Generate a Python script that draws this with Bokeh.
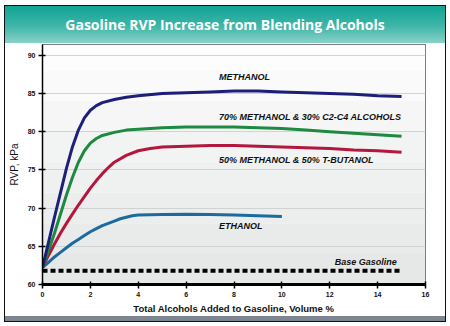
from bokeh.plotting import figure
from bokeh.models import Range1d, FixedTicker, BoxAnnotation, Div
from bokeh.layouts import column
from bokeh.core.properties import value
from bokeh.embed import file_html
from bokeh.resources import INLINE

# ---- data ----
meth_x = [0, 0.25, 0.5, 0.75, 1.0, 1.25, 1.5, 1.75, 2.0, 2.25, 2.5, 3, 3.5, 4, 5, 6, 7, 8, 9, 10, 11, 12, 13, 14, 15]
meth_y = [62.2, 65.5, 68.8, 72.0, 75.2, 78.0, 80.2, 81.8, 82.8, 83.4, 83.8, 84.2, 84.5, 84.7, 85.0, 85.1, 85.2,
          85.3, 85.3, 85.2, 85.1, 85.0, 84.9, 84.7, 84.6]

m70_x = [0, 0.25, 0.5, 0.75, 1.0, 1.25, 1.5, 1.75, 2.0, 2.25, 2.5, 3, 3.5, 4, 5, 6, 7, 8, 9, 10, 11, 12, 13, 14, 15]
m70_y = [62.2, 64.4, 66.7, 69.2, 71.7, 74.0, 76.0, 77.5, 78.5, 79.1, 79.5, 79.9, 80.2, 80.3, 80.5, 80.6, 80.6,
         80.6, 80.5, 80.4, 80.2, 80.0, 79.8, 79.6, 79.4]

m50_x = [0, 0.25, 0.5, 0.75, 1.0, 1.25, 1.5, 1.75, 2.0, 2.25, 2.5, 2.75, 3, 3.5, 4, 4.5, 5, 6, 7, 8, 9, 10, 11,
         12, 13, 14, 15]
m50_y = [62.2, 63.8, 65.3, 66.7, 68.0, 69.2, 70.4, 71.5, 72.6, 73.6, 74.5, 75.3, 76.0, 76.9, 77.5, 77.8, 78.0,
         78.1, 78.2, 78.2, 78.1, 78.0, 77.9, 77.8, 77.6, 77.5, 77.3]

eth_x = [0, 0.25, 0.5, 0.75, 1, 1.25, 1.5, 1.75, 2, 2.25, 2.5, 2.75, 3, 3.25, 3.5, 3.75, 4, 5, 6, 7, 8, 9, 10]
eth_y = [62.2, 62.9, 63.6, 64.2, 64.8, 65.4, 65.9, 66.4, 66.9, 67.3, 67.7, 68.0, 68.3, 68.6, 68.8, 69.0, 69.1,
         69.15, 69.2, 69.15, 69.1, 69.0, 68.9]

base_x = [0, 15]
base_y = [61.8, 61.8]

x_ticks = [0, 2, 4, 6, 8, 10, 12, 14, 16]
y_ticks = [60, 65, 70, 75, 80, 85, 90]

label_texts = ["METHANOL", "70% METHANOL & 30% C2-C4 ALCOHOLS",
               "50% METHANOL & 50% T-BUTANOL", "ETHANOL"]
label_x = [7.37, 7.37, 7.37, 7.37]
label_y = [87.1, 81.9, 76.3, 67.6]

title_text = "Gasoline RVP Increase from Blending Alcohols"

# ---- header ----
hdr = Div(text=title_text, width=440, height=37, margin=0,
          styles={"background": "linear-gradient(to bottom, #0fa494 0%, #3fb6a8 55%, #8ad1c7 100%)",
                  "color": "white", "font-family": "Open Sans", "font-weight": "bold",
                  "font-size": "14px", "text-align": "center", "line-height": "37px",
                  "white-space": "nowrap", "overflow": "hidden"})

# ---- figure ----
p = figure(width=440, height=273, output_backend="svg", toolbar_location=None,
           x_range=Range1d(0, 16), y_range=Range1d(60, 91.4),
           min_border_left=37, min_border_right=20, min_border_top=1,
           min_border_bottom=30, margin=0)
p.background_fill_color = "#ffffff"
p.border_fill_color = "#ffffff"
p.outline_line_color = "#555555"
p.outline_line_width = 1

# plot-area gradient (white top -> light grey bottom)
bands = [(60, 64, "#e6e8e8"), (64, 68, "#e9ebeb"), (68, 72, "#eceeee"), (72, 76, "#eff0f0"),
         (76, 80, "#f2f3f3"), (80, 84, "#f6f6f6"), (84, 88, "#fafafa"), (88, 91.4, "#fdfdfd")]
for b0, b1, c in bands:
    p.add_layout(BoxAnnotation(bottom=b0, top=b1, fill_color=c, fill_alpha=1,
                               line_alpha=0, level="image"))

# grid
p.xgrid.grid_line_color = None
p.ygrid.grid_line_color = "#cfd3d3"
p.ygrid.grid_line_width = 1
p.ygrid.ticker = FixedTicker(ticks=y_ticks)

# axes
p.xaxis.ticker = FixedTicker(ticks=x_ticks)
p.yaxis.ticker = FixedTicker(ticks=y_ticks)
for ax in (p.xaxis[0], p.yaxis[0]):
    ax.axis_line_color = "black"
    ax.major_tick_line_color = "black"
    ax.major_tick_line_width = 1.5
    ax.minor_tick_line_color = None
    ax.major_label_text_font = "Liberation Sans"
    ax.major_label_text_font_size = "7px"
    ax.major_label_text_font_style = "bold"
    ax.major_label_text_color = "#111111"
    ax.axis_label_text_font = "Liberation Sans"
    ax.axis_label_text_color = "#111111"
    ax.major_tick_in = 3
    ax.major_tick_out = 4
p.xaxis.axis_line_width = 3
p.yaxis.axis_line_width = 1.5
p.xaxis.axis_label = "Total Alcohols Added to Gasoline, Volume %"
p.xaxis.axis_label_text_font_size = "9.5px"
p.xaxis.axis_label_text_font_style = "bold"
p.xaxis.axis_label_standoff = 3
p.yaxis.axis_label = "RVP, kPa"
p.yaxis.axis_label_text_font_size = "10px"
p.yaxis.axis_label_text_font_style = "normal"
p.yaxis.axis_label_standoff = 5
p.xaxis.major_label_standoff = 3
p.yaxis.major_label_standoff = 3

# lines
p.line(base_x, base_y, line_color="black", line_width=4, line_dash="5 3")
p.line(eth_x, eth_y, line_color="#1b6b9f", line_width=3)
p.line(m50_x, m50_y, line_color="#b3173d", line_width=3)
p.line(m70_x, m70_y, line_color="#1c8a3f", line_width=3)
p.line(meth_x, meth_y, line_color="#1d1f7a", line_width=3)

# labels
p.text(x=label_x, y=label_y, text=label_texts, text_font=value("Liberation Sans"),
       text_font_size="9px", text_font_style="bold italic", text_color="#111111",
       text_baseline="middle", text_align="left")
p.text(x=[14.8], y=[62.9], text=["Base Gasoline"], text_font=value("Liberation Sans"),
       text_font_size="9px", text_font_style="bold italic", text_color="#111111",
       text_baseline="middle", text_align="right")

# bottom grey bar
bar = Div(text="", width=440, height=5, margin=0, styles={"background": "#7c8590"})

lay = column(hdr, p, bar, spacing=0,
             styles={"margin-left": "4px", "margin-top": "5px", "border": "1px solid #111111"})

open("out.html", "w").write(file_html(lay, INLINE))
